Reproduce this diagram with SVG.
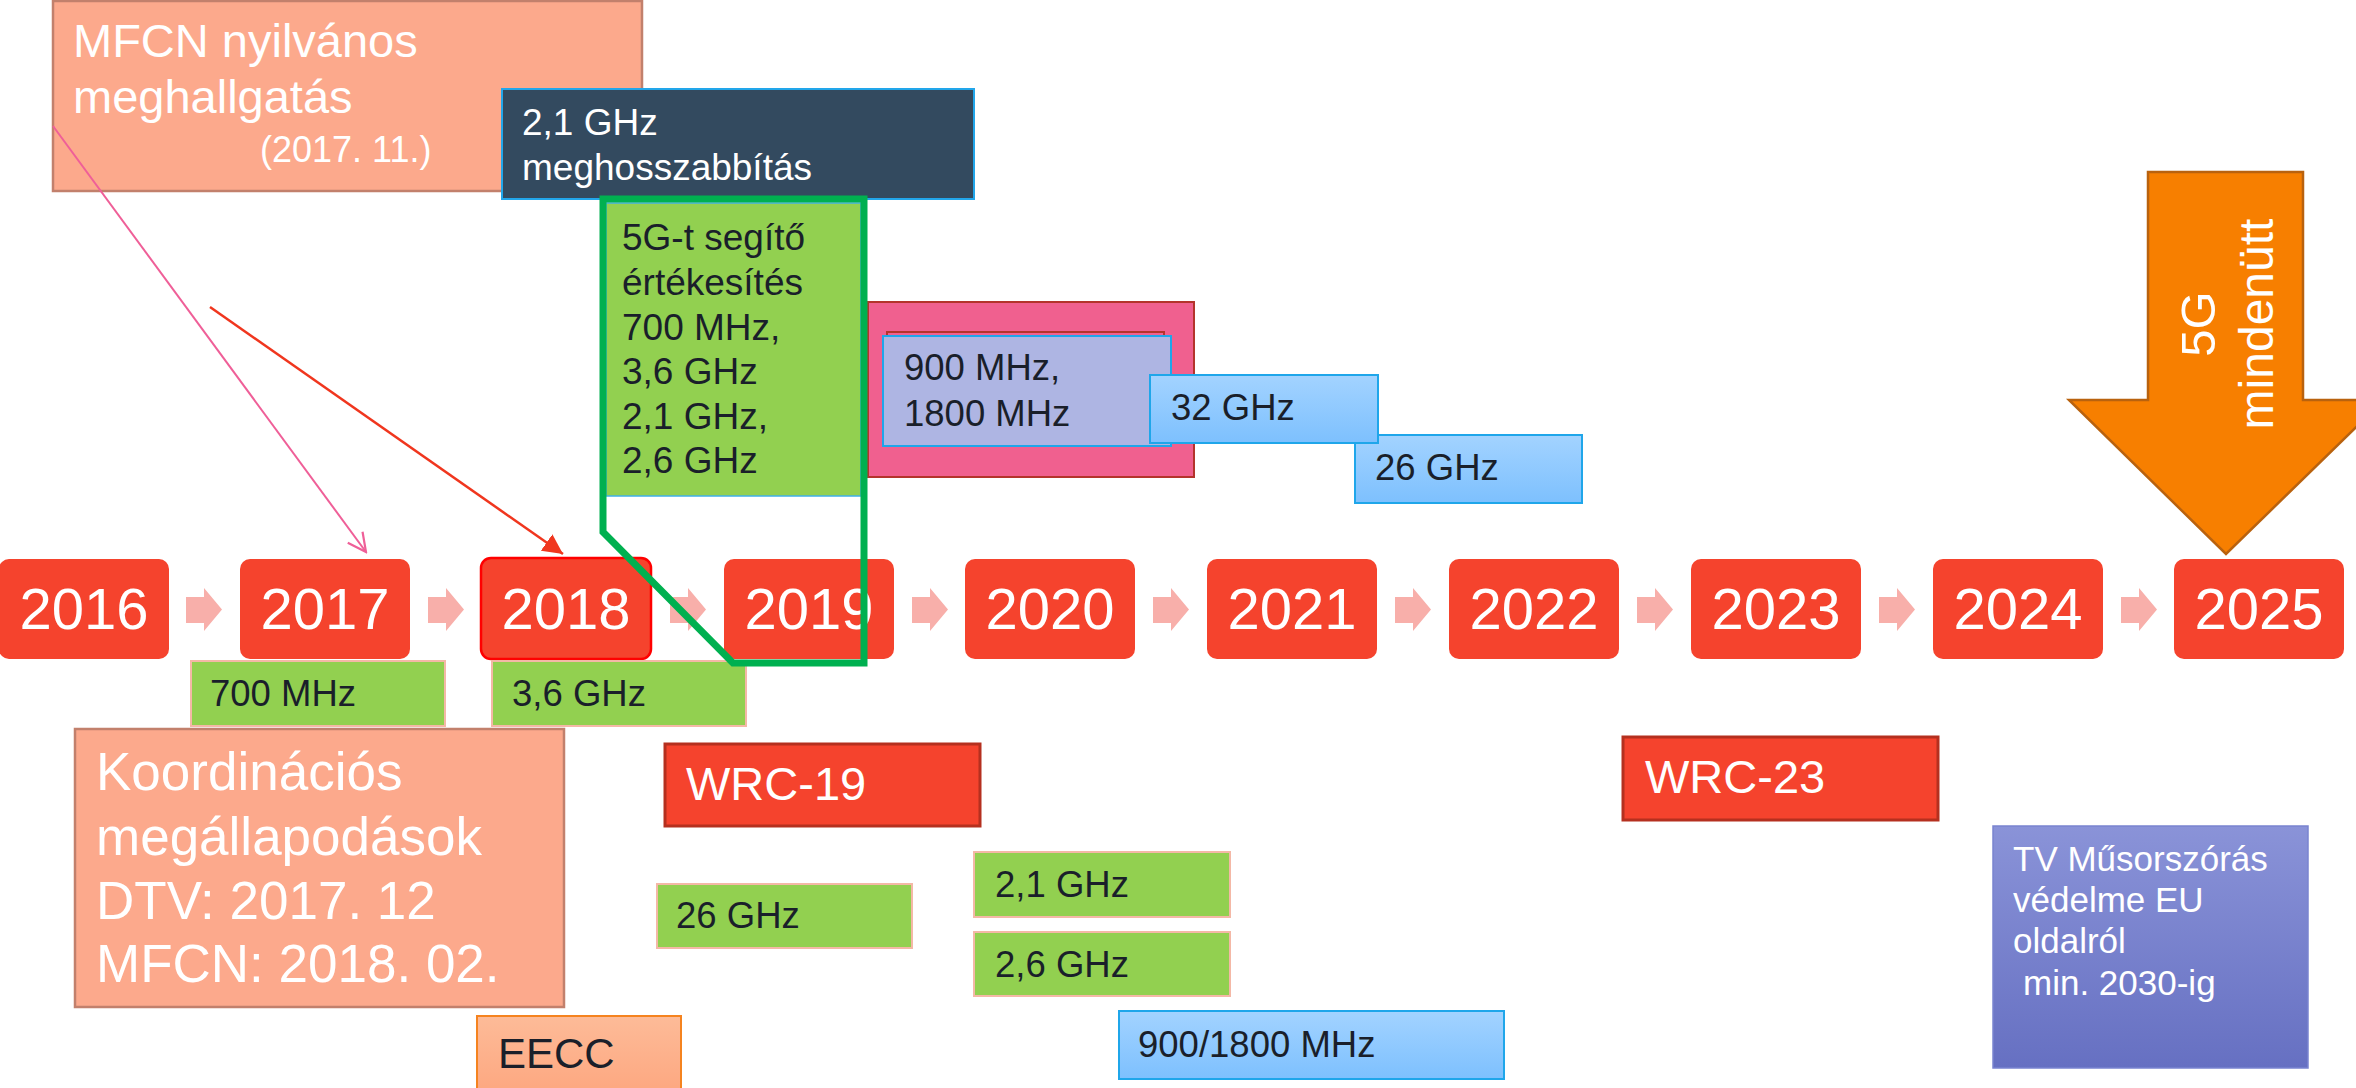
<svg xmlns="http://www.w3.org/2000/svg" width="2356" height="1088" viewBox="0 0 2356 1088">
<defs>
<style>
text{font-family:"Liberation Sans",Arial,sans-serif}
.year{fill:#F5432D}
.yt{fill:#fff;font-size:58px;text-anchor:middle}
.chev{fill:#F8AFAA}
.salmon{fill:#FCA98C;stroke:#C2806C;stroke-width:2.5}
.wt{fill:#fff}
.dk{fill:#1a1f2a}
.grn{fill:#92D050;stroke:#F4B8A6;stroke-width:2}
.blue{fill:url(#gBlue);stroke:#1FA6EA;stroke-width:2}
.wrc{fill:#F5432D;stroke:#B5301F;stroke-width:3}
.s36{font-size:36.5px}
</style>
<linearGradient id="gBlue" x1="0" y1="0" x2="0" y2="1"><stop offset="0" stop-color="#A3D3FF"/><stop offset="1" stop-color="#7DC0FE"/></linearGradient>
<linearGradient id="gTV" x1="0" y1="0" x2="0" y2="1"><stop offset="0" stop-color="#8A93D8"/><stop offset="1" stop-color="#6670C2"/></linearGradient>
<linearGradient id="gEECC" x1="0" y1="0" x2="0" y2="1"><stop offset="0" stop-color="#FDBB98"/><stop offset="1" stop-color="#FDA47C"/></linearGradient>
<marker id="mOpen" viewBox="0 0 12 12" refX="11" refY="6" markerWidth="22" markerHeight="22" markerUnits="userSpaceOnUse" orient="auto"><path d="M1,1 L11,6 L1,11" fill="none" stroke="#EF5F98" stroke-width="1.2"/></marker>
<marker id="mFill" viewBox="0 0 10 10" refX="10" refY="5" markerWidth="20" markerHeight="20" markerUnits="userSpaceOnUse" orient="auto"><path d="M0,0 L10,5 L0,10 z" fill="#F0361E"/></marker>
</defs>
<rect width="2356" height="1088" fill="#fff"/>

<g id="timeline">
<g id="y2016"><rect class="year" x="-1" y="559" width="170" height="100" rx="10"/><text class="yt" x="84" y="629">2016</text></g>
<g id="y2017"><rect class="year" x="240" y="559" width="170" height="100" rx="10"/><text class="yt" x="325" y="629">2017</text></g>
<g id="y2018"><rect class="year" x="481" y="558" width="170" height="101" rx="10" stroke="#FF0000" stroke-width="2.5"/><text class="yt" x="566" y="629">2018</text></g>
<g id="y2019"><rect class="year" x="724" y="559" width="170" height="100" rx="10"/><text class="yt" x="809" y="629">2019</text></g>
<g id="y2020"><rect class="year" x="965" y="559" width="170" height="100" rx="10"/><text class="yt" x="1050" y="629">2020</text></g>
<g id="y2021"><rect class="year" x="1207" y="559" width="170" height="100" rx="10"/><text class="yt" x="1292" y="629">2021</text></g>
<g id="y2022"><rect class="year" x="1449" y="559" width="170" height="100" rx="10"/><text class="yt" x="1534" y="629">2022</text></g>
<g id="y2023"><rect class="year" x="1691" y="559" width="170" height="100" rx="10"/><text class="yt" x="1776" y="629">2023</text></g>
<g id="y2024"><rect class="year" x="1933" y="559" width="170" height="100" rx="10"/><text class="yt" x="2018" y="629">2024</text></g>
<g id="y2025"><rect class="year" x="2174" y="559" width="170" height="100" rx="10"/><text class="yt" x="2259" y="629">2025</text></g>
</g>

<g id="chevrons">
<path class="chev" d="M186,597 h18 v-9 l18,21.5 l-18,21.5 v-8 h-18 z"/>
<path class="chev" d="M428,597 h18 v-9 l18,21.5 l-18,21.5 v-8 h-18 z"/>
<path class="chev" d="M670,597 h18 v-9 l18,21.5 l-18,21.5 v-8 h-18 z"/>
<path class="chev" d="M912,597 h18 v-9 l18,21.5 l-18,21.5 v-8 h-18 z"/>
<path class="chev" d="M1153,597 h18 v-9 l18,21.5 l-18,21.5 v-8 h-18 z"/>
<path class="chev" d="M1395,597 h18 v-9 l18,21.5 l-18,21.5 v-8 h-18 z"/>
<path class="chev" d="M1637,597 h18 v-9 l18,21.5 l-18,21.5 v-8 h-18 z"/>
<path class="chev" d="M1879,597 h18 v-9 l18,21.5 l-18,21.5 v-8 h-18 z"/>
<path class="chev" d="M2121,597 h18 v-9 l18,21.5 l-18,21.5 v-8 h-18 z"/>
</g>

<g id="mfcn">
<rect class="salmon" x="53" y="1" width="589" height="190"/>
<text class="wt" x="73" y="57" font-size="47">MFCN nyilvános</text>
<text class="wt" x="73" y="113" font-size="47">meghallgatás</text>
<text class="wt" x="260" y="162" font-size="36">(2017. 11.)</text>
</g>

<g id="ext21">
<rect x="502" y="89" width="472" height="110" fill="#334A5F" stroke="#22A6EA" stroke-width="2"/>
<text class="wt" x="522" y="135" font-size="37">2,1 GHz</text>
<text class="wt" x="522" y="180" font-size="37">meghosszabbítás</text>
</g>

<g id="sale5g">
<rect x="606" y="203" width="255" height="293" fill="#92D050" stroke="#3FB0E8" stroke-width="1.5"/>
<text class="dk" font-size="37" x="622" y="250">5G-t segítő</text>
<text class="dk" font-size="37" x="622" y="295">értékesítés</text>
<text class="dk" font-size="37" x="622" y="340">700 MHz,</text>
<text class="dk" font-size="37" x="622" y="384">3,6 GHz</text>
<text class="dk" font-size="37" x="622" y="429">2,1 GHz,</text>
<text class="dk" font-size="37" x="622" y="473">2,6 GHz</text>
</g>

<g id="refarm">
<rect x="868" y="302" width="326" height="175" fill="#F0608F" stroke="#B4342C" stroke-width="2"/>
<rect x="887" y="332" width="277" height="110" fill="#F0608F" stroke="#B4342C" stroke-width="2"/>
<rect x="883" y="336" width="288" height="110" fill="#AEB5E3" stroke="#1FA6EA" stroke-width="2"/>
<text class="dk s36" x="904" y="380">900 MHz,</text>
<text class="dk s36" x="904" y="426">1800 MHz</text>
</g>

<g id="b26top">
<rect class="blue" x="1355" y="435" width="227" height="68"/>
<text class="dk s36" x="1375" y="480">26 GHz</text>
</g>
<g id="b32">
<rect class="blue" x="1150" y="375" width="228" height="68"/>
<text class="dk s36" x="1171" y="420">32 GHz</text>
</g>

<g id="arrow5g">
<path d="M2148,172 H2303 V400 H2384 L2226,554 L2069,400 H2148 Z" fill="#F77F00" stroke="#B9620E" stroke-width="2.5"/>
<text class="wt" font-size="49" text-anchor="middle" transform="translate(2215,324) rotate(-90)">5G</text>
<text class="wt" font-size="48" text-anchor="middle" transform="translate(2273,324) rotate(-90)">mindenütt</text>
</g>

<g id="b700">
<rect class="grn" x="191" y="661" width="254" height="65"/>
<text class="dk s36" x="210" y="706">700 MHz</text>
</g>
<g id="b36">
<rect class="grn" x="492" y="661" width="254" height="65"/>
<text class="dk s36" x="512" y="706">3,6 GHz</text>
</g>

<g id="highlight">
<path d="M603,199 V532 L733,663 H864 V199 Z" fill="none" stroke="#00B050" stroke-width="7" stroke-linejoin="miter"/>
</g>

<g id="koord">
<rect class="salmon" x="75" y="729" width="489" height="278"/>
<text class="wt" font-size="53" x="96" y="790">Koordinációs</text>
<text class="wt" font-size="53" x="96" y="855">megállapodások</text>
<text class="wt" font-size="53" x="96" y="919">DTV: 2017. 12</text>
<text class="wt" font-size="53" x="96" y="982">MFCN: 2018. 02.</text>
</g>

<g id="wrc19">
<rect class="wrc" x="665" y="744" width="315" height="82"/>
<text class="wt" font-size="47" x="686" y="800">WRC-19</text>
</g>

<g id="b26low">
<rect class="grn" x="657" y="884" width="255" height="64"/>
<text class="dk s36" x="676" y="928">26 GHz</text>
</g>

<g id="b21">
<rect class="grn" x="974" y="852" width="256" height="65"/>
<text class="dk s36" x="995" y="897">2,1 GHz</text>
</g>
<g id="b26">
<rect class="grn" x="974" y="932" width="256" height="64"/>
<text class="dk s36" x="995" y="977">2,6 GHz</text>
</g>

<g id="b9001800">
<rect class="blue" x="1119" y="1011" width="385" height="68"/>
<text class="dk s36" x="1138" y="1057">900/1800 MHz</text>
</g>

<g id="eecc">
<rect x="477" y="1016" width="204" height="90" fill="url(#gEECC)" stroke="#F5831F" stroke-width="2"/>
<text class="dk" font-size="42" x="498" y="1068">EECC</text>
</g>

<g id="wrc23">
<rect class="wrc" x="1623" y="737" width="315" height="83"/>
<text class="wt" font-size="47" x="1645" y="793">WRC-23</text>
</g>

<g id="tv">
<rect x="1993" y="826" width="315" height="242" fill="url(#gTV)" stroke="#7A84D0" stroke-width="1.5"/>
<text class="wt" font-size="35" x="2013" y="871">TV Műsorszórás</text>
<text class="wt" font-size="35" x="2013" y="912">védelme EU</text>
<text class="wt" font-size="35" x="2013" y="953">oldalról</text>
<text class="wt" font-size="35" x="2023" y="995">min. 2030-ig</text>
</g>

<g id="connectors">
<line x1="53" y1="126" x2="366" y2="552" stroke="#EF5F98" stroke-width="2" marker-end="url(#mOpen)"/>
<line x1="210" y1="307" x2="563" y2="554" stroke="#F0361E" stroke-width="2.5" marker-end="url(#mFill)"/>
</g>
</svg>
